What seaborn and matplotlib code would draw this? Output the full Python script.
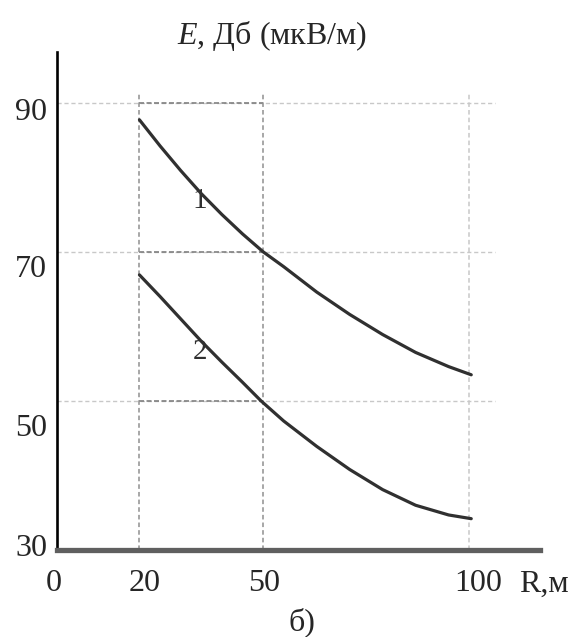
import pandas as pd
import matplotlib.pyplot as plt
import seaborn as sns
from matplotlib.transforms import ScaledTranslation

# distance R, m and field strength E, dB(uV/m)
r_1 = [20, 25, 30, 35, 40, 45, 50, 55, 63, 71, 79, 87, 95, 100.5]
e_1 = [87.7, 84.2, 80.9, 77.8, 75.0, 72.4, 70.0, 68.0, 64.6, 61.6, 58.9, 56.5, 54.6, 53.5]
r_2 = [20, 25, 30, 35, 40, 45, 49.5, 55, 63, 71, 79, 87, 95, 100.5]
e_2 = [66.9, 64.0, 61.0, 58.0, 55.2, 52.5, 50.0, 47.3, 43.9, 40.8, 38.1, 36.0, 34.7, 34.2]

x_ticks = [0, 20, 50, 100]
y_ticks = [30, 50, 70, 90]
x_grid = [20, 50, 100]
y_grid = [50, 70, 90]

df = pd.concat([
    pd.DataFrame({'R': r_1, 'E': e_1, 'curve': '1'}),
    pd.DataFrame({'R': r_2, 'E': e_2, 'curve': '2'}),
])

sns.set_style('white')
plt.rcParams['font.family'] = ['Liberation Serif', 'DejaVu Serif']
plt.rcParams['mathtext.fontset'] = 'custom'
plt.rcParams['mathtext.it'] = 'Liberation Serif:italic'
plt.rcParams['mathtext.rm'] = 'Liberation Serif'

fig = plt.figure(figsize=(5.77, 6.37), dpi=100)
ax = fig.add_axes([0.0988, 0.1366, 0.8372, 0.7818])

# grid: light dotted lines, darker between 20 and 50
for y in y_grid:
    ax.hlines(y, 0, 106.3, colors='#c8c8c8', linestyles=(0, (3, 2)), lw=1.0, zorder=1)
    ax.hlines(y, x_grid[0], x_grid[1], colors='#808080', linestyles=(0, (3, 1.5)), lw=1.2, zorder=1)
for x in x_grid:
    col = '#c8c8c8' if x == 100 else '#909090'
    ax.vlines(x, 30, 91.3, colors=col, linestyles=(0, (3, 2)), lw=1.1, zorder=1)

sns.lineplot(data=df, x='R', y='E', hue='curve', palette=['#303030', '#303030'],
             sort=False, estimator=None, lw=2.3, legend=False, ax=ax, zorder=3)

ax.set_xlim(0, 117.2)
ax.set_ylim(30, 96.8)
sns.despine(ax=ax)
ax.spines['left'].set_color('black')
ax.spines['left'].set_linewidth(1.9)
ax.spines['bottom'].set_color('#5f5f5f')
ax.spines['bottom'].set_linewidth(3.8)

ax.set_xlabel('')
ax.set_ylabel('')
ax.tick_params(length=0)
ax.set_xticks(x_ticks)
ax.set_xticklabels([str(v) for v in x_ticks], fontsize=23)
ax.set_yticks(y_ticks)
ax.set_yticklabels([str(v) for v in y_ticks], fontsize=23)
ax.tick_params(axis='x', pad=14)
ax.tick_params(axis='y', pad=7)

# shift y labels to where they sit in the original
y_shift = {90: -6, 70: -14, 50: -24, 30: 5}
for lab, v in zip(ax.get_yticklabels(), y_ticks):
    lab.set_transform(lab.get_transform() + ScaledTranslation(0, y_shift[v] / 100, fig.dpi_scale_trans))
x_shift = {0: -3, 20: 5, 50: 1, 100: 9}
for lab, v in zip(ax.get_xticklabels(), x_ticks):
    lab.set_transform(lab.get_transform() + ScaledTranslation(x_shift[v] / 100, 0, fig.dpi_scale_trans))

# curve numbers, sitting just under each line
ax.text(34.7, 76.8, '1', fontsize=21, ha='center', va='center', color='#303030')
ax.text(34.7, 56.6, '2', fontsize=21, ha='center', va='center', color='#303030')

fig.text(272 / 577, 1 - 36 / 637, r'$E$, Дб (мкВ/м)', fontsize=23, ha='center', va='center')
fig.text(544 / 577, 1 - 584 / 637, 'R,м', fontsize=23, ha='center', va='center')
fig.text(302 / 577, 1 - 622 / 637, 'б)', fontsize=23, ha='center', va='center')

plt.savefig('out.png', dpi=100)
